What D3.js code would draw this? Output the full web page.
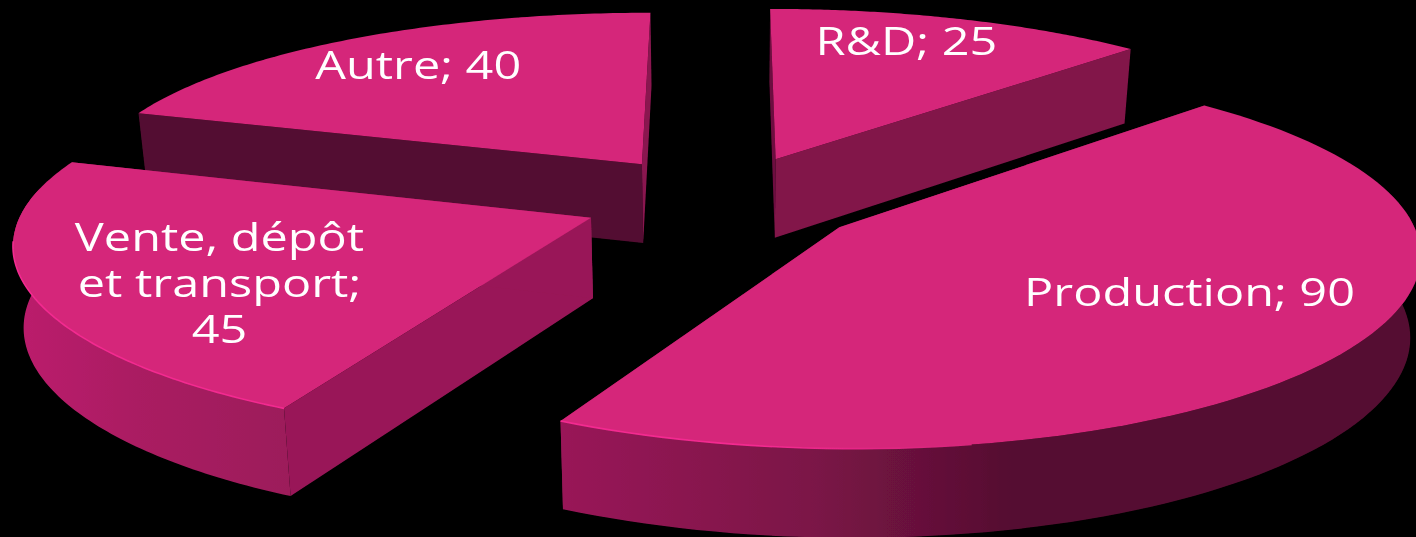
<!DOCTYPE html>
<html>
<head>
<meta charset="utf-8">
<script src="https://cdn.jsdelivr.net/npm/d3@7"></script>
<style>
  html, body { margin: 0; padding: 0; background: #000; overflow: hidden; }
  svg { display: block; }
</style>
</head>
<body>
<svg id="chart"></svg>
<script>
// data
const categories = ["R&D", "Production", "Vente, dépôt et transport", "Autre"];
const values = [25, 90, 45, 40];
const labelLines = [["R&D; 25"], ["Production; 90"], ["Vente, dépôt", "et transport;", "45"], ["Autre; 40"]];

// look of the 3d pie
const width = 1416, height = 537;
const centerX = 723, centerY = 200;
const radiusX = 565, radiusY = 182;
const perspectiveX = 0.12, perspectiveY = 0.14, explode = 0.25;
const thickness = 80, taper = 0.985;

const topColor = "#d5257a", rimColor = "#f32a90";
const startFaceColors = ["#6d1040", "#82144a", "#991858", "#520e30"];
const endFaceColors = ["#82144a", "#82144a", "#991858", "#8a1650"];
const drawOrder = [3, 0, 2, 1];
const labelRadius = [0.801, 0.664, 0.701, 0.764];
const labelShift = [-3, -6.2, -6.4, 0.3];
const lineGap = 46;
const textStretch = 1.28;

const svg = d3.select("#chart").attr("width", width).attr("height", height);

const x = d3.scaleLinear().domain([-1, 1]).range([centerX - radiusX, centerX + radiusX]);
const y = d3.scaleLinear().domain([-1, 1]).range([centerY + radiusY, centerY - radiusY]);

const pie = d3.pie().sort(null).value(d => d);
const slices = pie(values);

// ground plane -> screen
function project(u, v) {
    const wx = 1 / (1 + perspectiveX * v);
    const wy = 1 / (1 + perspectiveY * v);
    return { x: x(u * wx), y: y(v * wy), w: wy };
}

function ground(slice, r, angle) {
    const mid = (slice.startAngle + slice.endAngle) / 2;
    return project(
        explode * Math.sin(mid) + r * Math.sin(angle),
        explode * Math.cos(mid) + r * Math.cos(angle)
    );
}

// same point at the bottom of the slab
function drop(p) {
    return [centerX + (p.x - centerX) * taper, p.y + thickness * (1 + 0.6 * (p.w - 1))];
}

const line = d3.line().x(d => d[0]).y(d => d[1]);

function arcPoints(slice) {
    return d3.range(0, 101).map(i => {
        const a = slice.startAngle + (slice.endAngle - slice.startAngle) * i / 100;
        return ground(slice, 1, a);
    });
}

const defs = svg.append("defs");
defs.append("filter").attr("id", "soft")
    .attr("x", "-5%").attr("y", "-5%").attr("width", "110%").attr("height", "110%")
    .append("feGaussianBlur").attr("stdDeviation", 0.6);

function gradient(id, stops) {
    const g = defs.append("linearGradient").attr("id", id);
    stops.forEach(s => g.append("stop").attr("offset", s[0]).attr("stop-color", s[1]));
}
gradient("side1", [[0, "#991858"], [0.3, "#7a1446"], [0.53, "#540e30"], [1, "#540e30"]]);
gradient("side2", [[0, "#bc1f6d"], [0.45, "#aa1c62"], [1, "#9c1a5a"]]);
gradient("rim1", [[0, rimColor], [0.5, rimColor], [1, topColor]]);
gradient("rim2", [[0, rimColor], [1, rimColor]]);

const root = svg.append("g").attr("filter", "url(#soft)");

drawOrder.forEach(i => {
    const s = slices[i];
    const apex = ground(s, 0, 0);
    const arc = arcPoints(s);
    const g = root.append("g").attr("class", "slice").attr("data-name", categories[i]);

    // cut faces
    [[arc[0], startFaceColors[i]], [arc[100], endFaceColors[i]]].forEach(f => {
        const face = [[apex.x, apex.y], [f[0].x, f[0].y], drop(f[0]), drop(apex)];
        g.append("path").attr("d", line(face) + "Z").attr("fill", f[1]);
    });

    // outer wall, only the two front slices show one
    if (i === 1 || i === 2) {
        const front = arc.filter(p => p.w > 0.99);
        const wall = front.map(p => [p.x, p.y]).concat(front.slice().reverse().map(drop));
        g.append("path").attr("d", line(wall) + "Z").attr("fill", `url(#side${i})`);
    }

    // top
    const top = [[apex.x, apex.y]].concat(arc.map(p => [p.x, p.y]));
    g.append("path").attr("d", line(top) + "Z").attr("fill", topColor);

    // lit rim on the front part of the arc
    if (i === 1 || i === 2) {
        const rim = arc.filter(p => p.w > 1.03 && p.x < centerX + 250).map(p => [p.x, p.y]);
        g.append("path").attr("d", line(rim)).attr("fill", "none")
            .attr("stroke", `url(#rim${i})`).attr("stroke-width", 1.6);
    }
});

// labels
slices.forEach((s, i) => {
    const mid = (s.startAngle + s.endAngle) / 2 + labelShift[i] * Math.PI / 180;
    const p = ground(s, labelRadius[i], mid);
    const lines = labelLines[i];
    root.append("text")
        .attr("text-anchor", "middle")
        .attr("font-family", "'Open Sans', sans-serif")
        .attr("font-size", 38)
        .attr("fill", "#fff")
        .attr("transform", `scale(${textStretch},1)`)
        .selectAll("tspan")
        .data(lines)
        .join("tspan")
        .attr("x", p.x / textStretch)
        .attr("y", (d, k) => p.y + 13 + (k - (lines.length - 1) / 2) * lineGap)
        .text(d => d);
});
</script>
</body>
</html>
